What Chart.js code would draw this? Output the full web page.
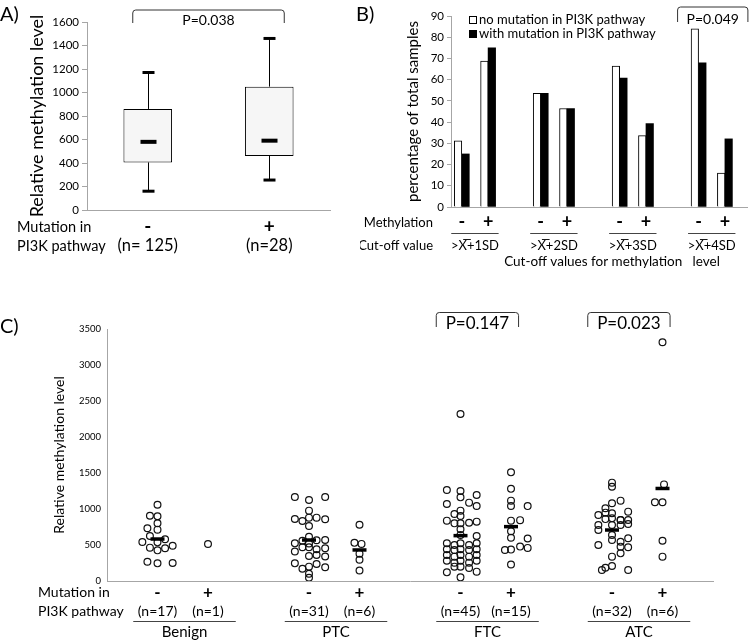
<!DOCTYPE html>
<html>
<head>
<meta charset="utf-8">
<script src="https://cdn.jsdelivr.net/npm/chart.js@4.4.1/dist/chart.umd.min.js"></script>
<style>
  html, body { margin: 0; padding: 0; background: #fff; }
  #page { position: relative; width: 749px; height: 640px; overflow: hidden; font-family: Lato, sans-serif; }
  #page canvas { position: absolute; }
  .panel { position: absolute; font-size: 20px; line-height: 24px; color: #000; }
</style>
</head>
<body>
<div id="page">
  <canvas id="chartA" width="345" height="262" style="left:0;top:0"></canvas>
  <canvas id="chartB" width="389" height="275" style="left:360px;top:0"></canvas>
  <canvas id="chartC" width="749" height="340" style="left:0;top:300px"></canvas>
  <div class="panel" style="left:0;top:1px">A)</div>
  <div class="panel" style="left:356px;top:1px">B)</div>
  <div class="panel" style="left:0;top:313px">C)</div>
</div>
<script>
// --- A) box plot ---
const boxSigns = ['-', '+'];
const boxCounts = ['(n= 125)', '(n=28)'];
const whiskerLow = [160, 255];
const quartile1 = [405, 460];
const medians = [580, 590];
const quartile3 = [860, 1050];
const whiskerHigh = [1170, 1460];
const pValueA = 'P=0.038';

// --- B) percentages per cut-off ---
const methylationSigns = ['-', '+', '-', '+', '-', '+', '-', '+'];
const cutoffLabels = ['>X\u0305+1SD', '>X\u0305+2SD', '>X\u0305+3SD', '>X\u0305+4SD'];
const noMutationPct = [31.2, 68.8, 53.6, 46.4, 66.4, 33.6, 84.0, 16.0];
const withMutationPct = [25.0, 75.0, 53.6, 46.4, 60.7, 39.3, 67.9, 32.1];
const pValueB = 'P=0.049';

// --- C) individual samples ---
const groupNames = ['Benign', 'PTC', 'FTC', 'ATC'];
const mutationSigns = ['-', '+'];
const subgroupCounts = ['(n=17)', '(n=1)', '(n=31)', '(n=6)', '(n=45)', '(n=15)', '(n=32)', '(n=6)'];
const subgroupMeans = [583, null, 569, 431, 630, 755, 708, 1285];
const pValuesC = [null, null, 'P=0.147', 'P=0.023'];
const dotValues = [
  [1060, 907, 898, 801, 732, 713, 625, 579, 542, 537, 490, 463, 454, 426, 268, 245, 250],
  [514],
  [1167, 1125, 1167, 977, 861, 833, 880, 880, 857, 764, 615, 523, 560, 565, 569, 520, 410, 468, 468, 440, 454, 347, 361, 340, 245, 171, 199, 236, 190, 100, 46],
  [782, 530, 515, 380, 295, 145],
  [2319, 1264, 1250, 1162, 1194, 1088, 1042, 1069, 977, 931, 903, 838, 801, 801, 810, 824, 718, 640, 625, 523, 500, 523, 500, 523, 440, 431, 440, 431, 440, 361, 338, 361, 338, 361, 282, 255, 282, 255, 282, 199, 199, 180, 120, 130, 51],
  [1509, 1280, 1116, 1042, 1040, 838, 845, 690, 600, 590, 431, 436, 478, 460, 230],
  [1366, 1310, 1116, 1079, 1010, 963, 917, 949, 940, 847, 860, 870, 847, 847, 778, 778, 778, 792, 708, 639, 570, 546, 593, 500, 477, 468, 384, 338, 185, 208, 153, 153],
  [3315, 1342, 1093, 1093, 560, 338]
];
// horizontal spread of the dots inside a column (x-axis units)
const dotJitter = [
  [0, -0.15, 0, 0, -0.2, 0, -0.15, 0.15, -0.3, 0, 0.3, -0.15, 0.15, 0, -0.2, 0, 0.3],
  [0],
  [-0.28, 0, 0.32, 0, -0.28, -0.13, 0, 0.15, 0.32, 0, 0, -0.28, -0.13, 0.15, 0.32, 0, -0.28, -0.13, 0, 0.15, 0.32, 0, 0.15, 0.32, -0.28, -0.13, 0, 0.15, 0.32, 0, 0],
  [0, -0.1, 0.04, 0, 0, 0],
  [0, -0.27, 0, 0, 0.32, 0.17, 0.32, -0.27, 0, -0.12, 0, -0.27, -0.12, 0, 0.17, 0.32, 0, 0, 0.32, -0.27, -0.12, 0, 0.17, 0.32, -0.27, -0.12, 0, 0.17, 0.32, -0.27, -0.12, 0, 0.17, 0.32, -0.27, -0.12, 0, 0.17, 0.32, -0.12, 0, 0.17, -0.27, 0.32, 0],
  [0, 0, 0, 0, 0.33, 0, 0.18, 0, 0, 0.33, -0.12, 0, 0.18, 0.33, 0],
  [0, 0, 0.17, 0, -0.13, 0.32, -0.27, -0.13, 0, 0.17, -0.13, 0, 0.17, 0.32, -0.27, 0, 0.17, 0.32, -0.27, 0, 0, 0.17, 0.32, -0.27, 0.17, 0.32, 0.17, 0, -0.13, 0, 0.32, -0.2],
  [0, 0.03, -0.15, 0, 0, 0]
];

Chart.defaults.font.family = 'Lato, "Liberation Sans", sans-serif';
Chart.defaults.color = '#000';
const axisGray = '#a6a6a6';
const plainNumber = v => String(v);

// pairs of bars / columns sit next to each other, one empty slot between pairs
const slotB = i => Math.floor(i / 2) * 3 + (i % 2);
const slotC = i => Math.floor(i / 2) * 3 + 1 + (i % 2);

function bracket(ctx, x0, x1, top, bottom) {
  ctx.save();
  ctx.strokeStyle = '#333';
  ctx.lineWidth = 1;
  ctx.beginPath();
  ctx.moveTo(x0, bottom);
  ctx.arcTo(x0, top, x1, top, 3);
  ctx.arcTo(x1, top, x1, bottom, 3);
  ctx.lineTo(x1, bottom);
  ctx.stroke();
  ctx.restore();
}

function text(ctx, str, x, y, size, align) {
  ctx.font = size + 'px Lato';
  ctx.textAlign = align || 'center';
  ctx.textBaseline = 'middle';
  ctx.fillStyle = '#000';
  ctx.fillText(str, x, y);
}

// ---------- A ----------
const boxDecor = {
  id: 'boxDecor',
  afterDatasetsDraw(chart) {
    const { ctx, scales: { x, y } } = chart;
    ctx.save();
    ctx.strokeStyle = '#000';
    boxSigns.forEach((_, i) => {
      const cx = Math.round(x.getPixelForValue(i)) + 0.5;
      ctx.lineWidth = 1;
      ctx.beginPath();
      ctx.moveTo(cx, y.getPixelForValue(quartile3[i]));
      ctx.lineTo(cx, y.getPixelForValue(whiskerHigh[i]));
      ctx.moveTo(cx, y.getPixelForValue(quartile1[i]));
      ctx.lineTo(cx, y.getPixelForValue(whiskerLow[i]));
      ctx.stroke();
      ctx.lineWidth = 3;
      [whiskerLow[i], whiskerHigh[i]].forEach(v => {
        const py = y.getPixelForValue(v);
        ctx.beginPath(); ctx.moveTo(cx - 6, py); ctx.lineTo(cx + 6, py); ctx.stroke();
      });
      ctx.lineWidth = 4;
      const my = y.getPixelForValue(medians[i]);
      ctx.beginPath(); ctx.moveTo(cx - 8, my); ctx.lineTo(cx + 8, my); ctx.stroke();
    });
    ctx.restore();
  },
  afterDraw(chart) {
    const { ctx, scales: { x }, chartArea } = chart;
    const x0 = x.getPixelForValue(0) - 15;
    const x1 = x.getPixelForValue(1) + 15;
    bracket(ctx, x0, x1, 10, 23);
    text(ctx, pValueA, (x0 + x1) / 2, 20, 14);
    boxCounts.forEach((c, i) => text(ctx, c, x.getPixelForValue(i), chartArea.bottom + 36, 16.5));
    text(ctx, 'Mutation in', 17, 227, 14.5, 'left');
    text(ctx, 'PI3K pathway', 17, 246, 14.5, 'left');
  }
};

new Chart(document.getElementById('chartA'), {
  type: 'bar',
  data: {
    labels: boxSigns,
    datasets: [{
      data: quartile1.map((v, i) => [v, quartile3[i]]),
      backgroundColor: '#f6f6f6',
      borderColor: '#000',
      borderWidth: 1,
      borderSkipped: false,
      barPercentage: 0.4,
      categoryPercentage: 1
    }]
  },
  options: {
    responsive: false,
    animation: false,
    devicePixelRatio: 1,
    layout: { padding: { top: 22, right: 15, left: 0, bottom: 0 } },
    plugins: { legend: { display: false }, tooltip: { enabled: false } },
    scales: {
      x: {
        grid: { display: false, drawTicks: false },
        border: { color: axisGray },
        ticks: { font: { size: 19, weight: 'bold', lineHeight: 1.1 }, padding: 6 },
        afterFit: s => { s.height = 52; }
      },
      y: {
        min: 0, max: 1600,
        ticks: { stepSize: 200, font: { size: 11.5 }, padding: 3, callback: plainNumber },
        grid: { drawOnChartArea: false, tickLength: 5, color: axisGray },
        border: { color: axisGray },
        title: { display: true, text: 'Relative methylation level', font: { size: 18 }, padding: { top: 26 } },
        afterFit: s => { s.width = 87; }
      }
    }
  },
  plugins: [boxDecor]
});

// ---------- B ----------
const panelBDecor = {
  id: 'panelBDecor',
  afterDraw(chart) {
    const { ctx, scales: { x }, chartArea } = chart;
    const base = chartArea.bottom;
    text(ctx, 'Methylation', 73, base + 16, 13, 'right');
    text(ctx, 'Cut-off value', 73, base + 39, 13, 'right');
    ctx.save();
    ctx.strokeStyle = '#444';
    ctx.lineWidth = 1;
    cutoffLabels.forEach((lab, g) => {
      const x0 = x.getPixelForValue(slotB(2 * g) - 0.4);
      const x1 = x.getPixelForValue(slotB(2 * g + 1) + 0.4);
      ctx.beginPath(); ctx.moveTo(x0, base + 26.5); ctx.lineTo(x1, base + 26.5); ctx.stroke();
      text(ctx, lab, (x0 + x1) / 2, base + 39, 13);
    });
    ctx.restore();
    text(ctx, 'Cut-off values for methylation   level', 252, base + 55, 13.5);

    // legend
    chart.data.datasets.forEach((ds, i) => {
      const ly = 20 + i * 14;
      ctx.save();
      ctx.fillStyle = ds.backgroundColor;
      ctx.strokeStyle = '#000';
      ctx.lineWidth = 1;
      ctx.fillRect(109.5, ly - 3.5, 7, 7);
      ctx.strokeRect(109.5, ly - 3.5, 7, 7);
      ctx.restore();
      text(ctx, ds.label, 119, ly, 13, 'left');
    });

    const bx0 = x.getPixelForValue(slotB(6)) - 21;
    const bx1 = x.getPixelForValue(slotB(7)) + 23;
    bracket(ctx, bx0, bx1, 7, 22);
    text(ctx, pValueB, (bx0 + bx1) / 2, 19, 14);
  }
};

new Chart(document.getElementById('chartB'), {
  type: 'bar',
  data: {
    datasets: [
      {
        label: 'no mutation in PI3K pathway',
        data: noMutationPct.map((v, i) => ({ x: slotB(i), y: v })),
        backgroundColor: '#fff',
        borderColor: '#000',
        borderWidth: 1,
        barThickness: 7.5
      },
      {
        label: 'with mutation in PI3K pathway',
        data: withMutationPct.map((v, i) => ({ x: slotB(i), y: v })),
        backgroundColor: '#000',
        borderColor: '#000',
        borderWidth: 0,
        barThickness: 7.5
      }
    ]
  },
  options: {
    responsive: false,
    animation: false,
    devicePixelRatio: 1,
    layout: { padding: { top: 16, right: 2, left: 0, bottom: 0 } },
    plugins: { legend: { display: false }, tooltip: { enabled: false } },
    scales: {
      x: {
        type: 'linear',
        min: -0.41, max: 10.84,
        offset: false,
        afterBuildTicks: s => { s.ticks = methylationSigns.map((_, i) => ({ value: slotB(i) })); },
        ticks: { callback: (v, i) => methylationSigns[i], autoSkip: false, maxRotation: 0, font: { size: 18, weight: 'bold' }, padding: 4 },
        grid: { display: false, drawTicks: false },
        border: { color: axisGray },
        afterFit: s => { s.height = 68; }
      },
      y: {
        min: 0, max: 90,
        ticks: { stepSize: 10, font: { size: 11.5 }, padding: 3 },
        grid: { drawOnChartArea: false, tickLength: 4, color: axisGray },
        border: { color: axisGray },
        title: { display: true, text: 'percentage of total samples', font: { size: 15 }, padding: { top: 44 } },
        afterFit: s => { s.width = 91; }
      }
    }
  },
  plugins: [panelBDecor]
});

// ---------- C ----------
const panelCDecor = {
  id: 'panelCDecor',
  afterDraw(chart) {
    const { ctx, scales: { x }, chartArea } = chart;
    const base = chartArea.bottom;
    text(ctx, 'Mutation in', 38, base + 11, 14, 'left');
    text(ctx, 'PI3K pathway', 38, base + 30, 14, 'left');
    subgroupCounts.forEach((c, s) => text(ctx, c, x.getPixelForValue(slotC(s)), base + 30, 14));
    ctx.save();
    ctx.strokeStyle = '#444';
    ctx.lineWidth = 1;
    groupNames.forEach((name, g) => {
      const x0 = x.getPixelForValue(slotC(2 * g) - 0.48);
      const x1 = x.getPixelForValue(slotC(2 * g + 1) + 0.55);
      ctx.beginPath(); ctx.moveTo(x0, base + 40.5); ctx.lineTo(x1, base + 40.5); ctx.stroke();
      text(ctx, name, (x0 + x1) / 2, base + 51, 15);
      if (pValuesC[g]) {
        const px0 = x.getPixelForValue(slotC(2 * g) - 0.48);
        const px1 = x.getPixelForValue(slotC(2 * g + 1) + 0.15);
        bracket(ctx, px0, px1, 12.5, 27);
        text(ctx, pValuesC[g], (px0 + px1) / 2, 24, 17);
      }
    });
    ctx.restore();
  }
};

const dotPoints = [];
dotValues.forEach((vals, s) => {
  vals.forEach((v, k) => dotPoints.push({ x: slotC(s) + dotJitter[s][k], y: v }));
});
const meanPoints = subgroupMeans
  .map((v, s) => (v === null ? null : { x: slotC(s), y: v }))
  .filter(p => p);

new Chart(document.getElementById('chartC'), {
  type: 'scatter',
  data: {
    datasets: [
      {
        data: meanPoints,
        pointStyle: 'line',
        pointRadius: 7,
        pointBorderWidth: 3.5,
        pointBorderColor: '#000'
      },
      {
        data: dotPoints,
        pointStyle: 'circle',
        pointRadius: 3.4,
        pointBorderWidth: 1.2,
        pointBorderColor: '#111',
        pointBackgroundColor: 'rgba(255,255,255,0)'
      }
    ]
  },
  options: {
    responsive: false,
    animation: false,
    devicePixelRatio: 1,
    layout: { padding: { top: 29, right: 36, left: 0, bottom: 0 } },
    plugins: { legend: { display: false }, tooltip: { enabled: false } },
    scales: {
      x: {
        type: 'linear',
        min: 0, max: 12,
        afterBuildTicks: s => { s.ticks = subgroupCounts.map((_, i) => ({ value: slotC(i) })); },
        ticks: {
          callback: (v, i) => mutationSigns[i % 2],
          autoSkip: false, maxRotation: 0,
          font: { size: 17, weight: 'bold', lineHeight: 1.1 }, padding: 2
        },
        grid: { display: false, drawTicks: false },
        border: { color: axisGray },
        afterFit: s => { s.height = 59; }
      },
      y: {
        min: 0, max: 3500,
        ticks: { stepSize: 500, font: { size: 9.5 }, padding: 6, callback: plainNumber },
        grid: { display: false, drawTicks: false },
        border: { color: axisGray },
        title: { display: true, text: 'Relative methylation level', font: { size: 14 }, padding: { top: 51 } },
        afterFit: s => { s.width = 107; }
      }
    }
  },
  plugins: [panelCDecor]
});
</script>
</body>
</html>
